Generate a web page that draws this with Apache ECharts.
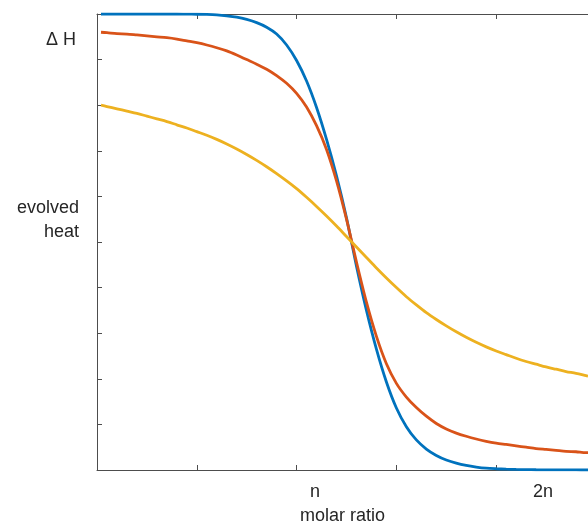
<!DOCTYPE html>
<html>
<head>
<meta charset="utf-8">
<script src="https://cdn.jsdelivr.net/npm/echarts@6/dist/echarts.min.js"></script>
<style>
  html, body { margin: 0; padding: 0; background: #ffffff; }
  #chart { width: 588px; height: 522px; }
</style>
</head>
<body>
<div id="chart"></div>
<script>
// Molar ratio sample positions (axis units, one tick per unit)
const molarRatio = [0.04, 0.1, 0.2, 0.3, 0.4, 0.5, 0.6, 0.7, 0.8, 0.9,
                    1.0, 1.1, 1.2, 1.3, 1.4, 1.5, 1.6, 1.7, 1.8, 1.9,
                    2.0, 2.1, 2.2, 2.3, 2.4, 2.5, 2.6, 2.7, 2.8, 2.9,
                    3.0, 3.1, 3.2, 3.3, 3.4, 3.5, 3.6, 3.7, 3.8, 3.9,
                    4.0, 4.1, 4.2, 4.3, 4.4, 4.5, 4.6, 4.7, 4.8, 4.9, 4.92];

// Evolved heat (fraction of ΔH) for three binding strengths
const heatSharp = [1.000, 1.000, 1.000, 1.000, 1.000, 1.000, 1.000, 1.000, 1.000, 0.9997,
                   0.9995, 0.999, 0.998, 0.996, 0.993, 0.988, 0.981, 0.971, 0.956, 0.932,
                   0.898, 0.853, 0.795, 0.725, 0.645, 0.553, 0.447, 0.350, 0.265, 0.193,
                   0.136, 0.095, 0.066, 0.046, 0.032, 0.022, 0.015, 0.010, 0.0065, 0.004,
                   0.0027, 0.0018, 0.0012, 0.0008, 0.0005, 0.0003, 0.0002, 0.0001, 0.0001, 0.0000, 0.0000];
const heatMedium = [0.960, 0.959, 0.957, 0.956, 0.954, 0.952, 0.950, 0.948, 0.945, 0.941,
                    0.937, 0.932, 0.926, 0.919, 0.910, 0.900, 0.890, 0.879, 0.865, 0.848,
                    0.826, 0.796, 0.755, 0.703, 0.634, 0.550, 0.456, 0.368, 0.293, 0.233,
                    0.190, 0.160, 0.137, 0.118, 0.102, 0.090, 0.081, 0.074, 0.068, 0.063,
                    0.059, 0.056, 0.053, 0.050, 0.047, 0.045, 0.043, 0.041, 0.040, 0.038, 0.038];
const heatWeak = [0.800, 0.797, 0.792, 0.787, 0.782, 0.776, 0.770, 0.764, 0.757, 0.750,
                  0.742, 0.734, 0.725, 0.715, 0.704, 0.692, 0.679, 0.665, 0.650, 0.634,
                  0.617, 0.598, 0.578, 0.557, 0.535, 0.512, 0.489, 0.466, 0.443, 0.421,
                  0.400, 0.380, 0.362, 0.345, 0.330, 0.316, 0.303, 0.291, 0.280, 0.270,
                  0.261, 0.253, 0.245, 0.238, 0.232, 0.226, 0.221, 0.216, 0.212, 0.207, 0.206];

// Axis annotations
const xLabelValues = [2.184, 4.47];
const xLabelTexts = ['n', '2n'];
const yLabelValues = [0.944, 0.548];
const yLabelTexts = ['Δ H', 'evolved\nheat'];

const seriesColors = ['#0072BD', '#D95319', '#EDB120'];
const axisColor = '#4d4d4d';
const textColor = '#262626';
const fontFamily = '"Liberation Sans", Arial, Helvetica, sans-serif';

function pairs(ys) {
  return molarRatio.map((x, i) => [x, ys[i]]);
}

const chart = echarts.init(document.getElementById('chart'), null, { renderer: 'canvas' });

const baseX = {
  type: 'value',
  min: 0,
  max: 4.92,
  interval: 1,
  splitLine: { show: false },
  axisLine: { show: true, onZero: false, lineStyle: { color: axisColor, width: 1 } },
  axisTick: { show: true, inside: true, length: 5, lineStyle: { color: axisColor, width: 1 } }
};

const option = {
  animation: false,
  backgroundColor: '#ffffff',
  grid: { left: 97, top: 14, right: 0, bottom: 52, containLabel: false, outerBoundsMode: 'none' },
  xAxis: [
    Object.assign({}, baseX, {
      position: 'bottom',
      axisLabel: {
        show: true,
        customValues: xLabelValues,
        formatter: function (v) {
          const i = xLabelValues.indexOf(v);
          return i >= 0 ? xLabelTexts[i] : '';
        },
        margin: 13,
        fontSize: 18,
        fontFamily: fontFamily,
        color: textColor
      },
      name: 'molar ratio',
      nameLocation: 'middle',
      nameGap: 37,
      nameTextStyle: { fontSize: 18, fontFamily: fontFamily, color: textColor }
    }),
    Object.assign({}, baseX, {
      position: 'top',
      axisLabel: { show: false }
    })
  ],
  yAxis: {
    type: 'value',
    min: 0,
    max: 1,
    interval: 0.1,
    splitLine: { show: false },
    axisLine: { show: true, onZero: false, lineStyle: { color: axisColor, width: 1 } },
    axisTick: { show: true, inside: true, length: 5, lineStyle: { color: axisColor, width: 1 } },
    axisLabel: {
      show: true,
      customValues: yLabelValues,
      formatter: function (v) {
        const i = yLabelValues.indexOf(v);
        if (i === 0) return '{dh|' + yLabelTexts[0] + '}';
        return i >= 0 ? yLabelTexts[i] : '';
      },
      margin: 18,
      align: 'right',
      fontSize: 18,
      lineHeight: 24,
      fontFamily: fontFamily,
      color: textColor,
      rich: {
        dh: { fontSize: 18, fontFamily: fontFamily, color: textColor, padding: [0, 3, 0, 0] }
      }
    }
  },
  series: [
    { name: 'sharp', data: pairs(heatSharp), color: seriesColors[0] },
    { name: 'medium', data: pairs(heatMedium), color: seriesColors[1] },
    { name: 'weak', data: pairs(heatWeak), color: seriesColors[2] }
  ].map(s => ({
    type: 'line',
    name: s.name,
    data: s.data,
    xAxisIndex: 0,
    yAxisIndex: 0,
    showSymbol: false,
    symbol: 'none',
    smooth: 0.3,
    lineStyle: { color: s.color, width: 2.8 },
    itemStyle: { color: s.color }
  }))
};

chart.setOption(option);
</script>
</body>
</html>
